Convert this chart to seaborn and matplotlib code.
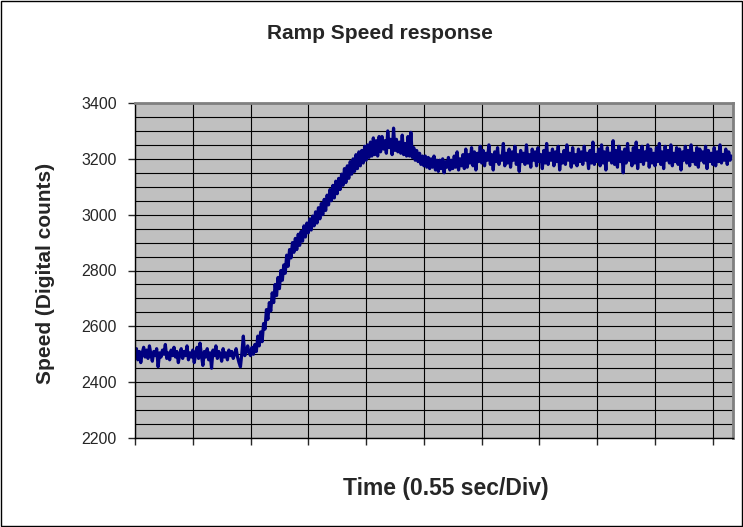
import numpy as np
import pandas as pd
import matplotlib
matplotlib.use("Agg")
import matplotlib.pyplot as plt
import seaborn as sns
from matplotlib.patches import Rectangle

# Speed samples (digital counts)
speed = [
    2495, 2520, 2480, 2510, 2470, 2505, 2525, 2490, 2515, 2485,
    2530, 2500, 2475, 2510, 2495, 2520, 2455, 2505, 2490, 2515,
    2500, 2535, 2485, 2505, 2480, 2515, 2495, 2525, 2490, 2510,
    2470, 2500, 2520, 2485, 2510, 2495, 2530, 2480, 2505, 2490,
    2515, 2470, 2500, 2525, 2485, 2540, 2495, 2460, 2510, 2490,
    2520, 2480, 2505, 2450, 2515, 2495, 2530, 2485, 2510, 2500,
    2475, 2520, 2490, 2505, 2480, 2515, 2495, 2510, 2485, 2500,
    2520, 2490, 2470, 2455, 2505, 2565, 2495, 2510, 2530, 2505,
    2495, 2525, 2500, 2535, 2510, 2565, 2530, 2580, 2545, 2610,
    2590, 2660, 2625, 2685, 2655, 2720, 2685, 2750, 2710, 2775,
    2735, 2800, 2765, 2820, 2790, 2855, 2815, 2875, 2845, 2900,
    2865, 2915, 2875, 2930, 2890, 2940, 2905, 2960, 2920, 2970,
    2935, 2985, 2945, 2995, 2960, 3010, 2970, 3025, 2985, 3040,
    3000, 3055, 3015, 3070, 3035, 3090, 3050, 3105, 3060, 3120,
    3075, 3130, 3090, 3145, 3105, 3165, 3115, 3175, 3130, 3190,
    3145, 3200, 3155, 3215, 3165, 3225, 3175, 3230, 3185, 3245,
    3195, 3250, 3205, 3260, 3210, 3275, 3215, 3265, 3210, 3280,
    3225, 3280, 3235, 3265, 3220, 3300, 3240, 3270, 3215, 3310,
    3230, 3270, 3225, 3260, 3220, 3285, 3215, 3255, 3210, 3280,
    3210, 3295, 3205, 3240, 3195, 3230, 3190, 3220, 3180, 3210,
    3175, 3210, 3170, 3205, 3165, 3200, 3170, 3210, 3160, 3195,
    3155, 3195, 3165, 3200, 3150, 3190, 3170, 3205, 3160, 3195,
    3165, 3210, 3170, 3225, 3160, 3200, 3175, 3215, 3165, 3235,
    3170, 3215, 3185, 3240, 3175, 3225, 3160, 3220, 3190, 3245,
    3185, 3230, 3175, 3220, 3195, 3250, 3180, 3215, 3160, 3225,
    3190, 3240, 3180, 3210, 3195, 3255, 3175, 3220, 3185, 3235,
    3170, 3225, 3195, 3245, 3180, 3215, 3155, 3230, 3190, 3220,
    3180, 3250, 3185, 3215, 3170, 3235, 3195, 3225, 3175, 3240,
    3190, 3215, 3165, 3230, 3185, 3255, 3180, 3220, 3195, 3235,
    3175, 3225, 3190, 3245, 3160, 3215, 3185, 3230, 3180, 3250,
    3195, 3220, 3170, 3240, 3185, 3215, 3175, 3235, 3190, 3225,
    3180, 3245, 3195, 3220, 3165, 3230, 3185, 3260, 3180, 3215,
    3190, 3235, 3175, 3250, 3185, 3225, 3160, 3240, 3195, 3220,
    3185, 3265, 3180, 3230, 3170, 3245, 3190, 3225, 3150, 3235,
    3185, 3255, 3195, 3220, 3175, 3240, 3185, 3260, 3165, 3230,
    3190, 3245, 3180, 3225, 3195, 3250, 3170, 3235, 3185, 3220,
    3175, 3240, 3190, 3255, 3180, 3225, 3165, 3245, 3195, 3230,
    3185, 3250, 3175, 3220, 3190, 3240, 3180, 3235, 3160, 3225,
    3195, 3245, 3185, 3230, 3175, 3250, 3190, 3220, 3180, 3240,
    3170, 3235, 3195, 3225, 3185, 3245, 3165, 3230, 3190, 3220,
    3180, 3240, 3175, 3225, 3190, 3250, 3185, 3215, 3195, 3235,
    3180, 3225, 3195, 3210,
]
samples_per_div = 40
y_ticks = [2200, 2400, 2600, 2800, 3000, 3200, 3400]

df = pd.DataFrame({"sample": np.arange(len(speed)), "speed": speed})

sns.set_style("white")
plt.rcParams['font.family'] = ['Liberation Sans', 'DejaVu Sans']

fig = plt.figure(figsize=(7.43, 5.27), dpi=100)
ax = fig.add_axes([135/743, 1-438/527, (733-135)/743, (438-103)/527])
ax.set_facecolor('#C0C0C0')

sns.lineplot(data=df, x="sample", y="speed", color='#000080', linewidth=2.3, ax=ax)

ax.set_xlim(0, len(speed))
ax.set_ylim(2200, 3400)
ax.set_xticks(np.arange(0, len(speed), samples_per_div))
ax.set_xticklabels([])
ax.set_yticks(y_ticks)
ax.set_yticks(np.arange(2200, 3401, 50), minor=True)
ax.tick_params(axis='y', which='major', direction='out', length=5, width=1, labelsize=11.5, pad=8, left=True)
ax.tick_params(axis='y', which='minor', length=0)
ax.tick_params(axis='x', direction='out', length=5, width=1, bottom=True)

ax.grid(True, which='both', axis='y', color='black', linewidth=0.8)
ax.grid(True, which='major', axis='x', color='black', linewidth=0.8)
ax.set_axisbelow(True)

for side in ['left', 'bottom']:
    ax.spines[side].set_color('black')
    ax.spines[side].set_linewidth(1)
for side in ['top', 'right']:
    ax.spines[side].set_color('#808080')
    ax.spines[side].set_linewidth(2)

ax.set_xlabel('')
ax.set_ylabel('')
fig.text(380/743, 1-34/527, 'Ramp Speed response', ha='center', va='center',
         fontsize=15, fontweight='bold')
fig.text(46/743, 1-273/527, 'Speed (Digital counts)', ha='center', va='center',
         rotation=90, fontsize=15, fontweight='bold')
fig.text(446/743, 1-489/527, 'Time (0.55 sec/Div)', ha='center', va='center',
         fontsize=16.5, fontweight='bold')

fig.patches.append(Rectangle((0.001, 0.001), 0.997, 0.997, transform=fig.transFigure,
                             fill=False, edgecolor='black', linewidth=1))

fig.savefig('out.png', dpi=100)
